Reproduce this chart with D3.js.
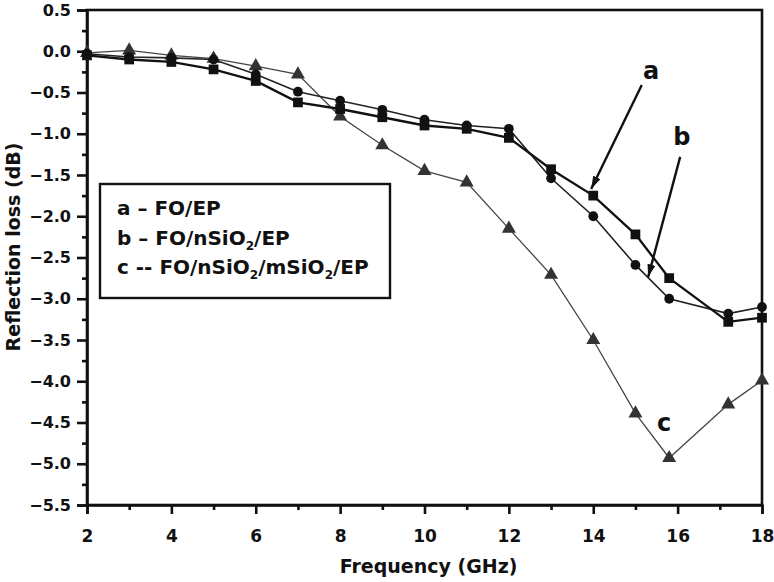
<!DOCTYPE html>
<html>
<head>
<meta charset="utf-8">
<script src="https://cdn.jsdelivr.net/npm/d3@7/dist/d3.min.js"></script>
<style>
  html, body { margin: 0; padding: 0; background: #fff; }
  svg { display: block; font-family: "DejaVu Sans", "Liberation Sans", Arial, sans-serif; }
</style>
</head>
<body>
<svg id="chart" width="774" height="582"></svg>
<script>
// ---- data ----
const frequency = [2, 3, 4, 5, 6, 7, 8, 9, 10, 11, 12, 13, 14, 15, 15.8, 17.2, 18];
const seriesA = [-0.05, -0.10, -0.13, -0.22, -0.36, -0.62, -0.70, -0.80, -0.90, -0.94, -1.05, -1.43, -1.75, -2.22, -2.75, -3.28, -3.23];
const seriesB = [-0.03, -0.07, -0.08, -0.10, -0.28, -0.49, -0.60, -0.71, -0.83, -0.90, -0.94, -1.54, -2.00, -2.59, -3.00, -3.18, -3.10];
const seriesC = [-0.02, 0.01, -0.05, -0.09, -0.18, -0.28, -0.79, -1.14, -1.45, -1.59, -2.15, -2.71, -3.50, -4.39, -4.93, -4.28, -3.99];
const xTicks = [2, 4, 6, 8, 10, 12, 14, 16, 18];
const xMinorTicks = [3, 5, 7, 9, 11, 13, 15, 17];
const yTicks = [0.5, 0.0, -0.5, -1.0, -1.5, -2.0, -2.5, -3.0, -3.5, -4.0, -4.5, -5.0, -5.5];
const yMinorTicks = [0.25, -0.25, -0.75, -1.25, -1.75, -2.25, -2.75, -3.25, -3.75, -4.25, -4.75, -5.25];
const xLabel = "Frequency (GHz)";
const yLabel = "Reflection loss (dB)";
// annotation anchors in data units: label position, arrow start, arrow end
const annotations = [
  { text: "a", label: [15.37, -0.24], from: [15.15, -0.41], to: [13.95, -1.67] },
  { text: "b", label: [16.1, -1.04], from: [16.06, -1.28], to: [15.3, -2.74] },
  { text: "c", label: [15.68, -4.5], from: null, to: null }
];

// ---- layout ----
const W = 774, H = 582;
const margin = { left: 87, right: 12, top: 10, bottom: 77 };
const svg = d3.select("#chart");
const x = d3.scaleLinear().domain([2, 18]).range([margin.left, W - margin.right]);
const y = d3.scaleLinear().domain([-5.5, 0.5]).range([H - margin.bottom, margin.top]);
const boldFont = "'DejaVu Sans', 'Liberation Sans', Arial, sans-serif";

// frame
svg.append("rect")
  .attr("x", x(2)).attr("y", y(0.5))
  .attr("width", x(18) - x(2)).attr("height", y(-5.5) - y(0.5))
  .attr("fill", "none").attr("stroke", "#111").attr("stroke-width", 2.6);

// axes
svg.append("g").attr("class", "xaxis").attr("transform", `translate(0,${y(-5.5)})`)
  .call(d3.axisBottom(x).tickValues(xTicks).tickSize(9).tickPadding(16).tickFormat(d3.format("d")));
svg.append("g").attr("transform", `translate(0,${y(-5.5)})`)
  .call(d3.axisBottom(x).tickValues(xMinorTicks).tickSize(5).tickFormat(""))
  .call(g => g.select(".domain").remove());
svg.append("g").attr("class", "yaxis").attr("transform", `translate(${x(2)},0)`)
  .call(d3.axisLeft(y).tickValues(yTicks).tickSize(10).tickPadding(6)
    .tickFormat(d => d3.format(".1f")(d).replace("-", "\u2212")));
svg.append("g").attr("transform", `translate(${x(2)},0)`)
  .call(d3.axisLeft(y).tickValues(yMinorTicks).tickSize(5).tickFormat(""))
  .call(g => g.select(".domain").remove());

svg.selectAll(".domain").attr("stroke", "#111").attr("stroke-width", 2.6);
svg.selectAll(".tick line").attr("stroke", "#111").attr("stroke-width", 2.6);
svg.selectAll(".tick text")
  .attr("font-family", boldFont).attr("font-weight", "bold").attr("fill", "#111");
svg.selectAll(".xaxis .tick text").attr("font-size", 17);
svg.selectAll(".yaxis .tick text").attr("font-size", 16);

// axis titles
svg.append("text")
  .attr("x", (x(2) + x(18)) / 2 + 4).attr("y", 573)
  .attr("text-anchor", "middle").attr("font-size", 19).attr("font-weight", "bold")
  .attr("font-family", boldFont).attr("fill", "#111")
  .text(xLabel);
svg.append("text")
  .attr("transform", `translate(20,247) rotate(-90)`)
  .attr("text-anchor", "middle").attr("font-size", 19).attr("font-weight", "bold")
  .attr("font-family", boldFont).attr("fill", "#111")
  .text(yLabel);

// series
const series = [
  { values: seriesC, color: "#444", width: 1.3, shape: d3.symbolTriangle, size: 85, fill: "#333" },
  { values: seriesB, color: "#222", width: 1.6, shape: d3.symbolCircle, size: 75, fill: "#111" },
  { values: seriesA, color: "#111", width: 2.3, shape: d3.symbolSquare, size: 95, fill: "#111" }
];
const line = d3.line().x(d => x(d[0])).y(d => y(d[1]));
series.forEach(s => {
  const pts = frequency.map((f, i) => [f, s.values[i]]);
  svg.append("path").datum(pts)
    .attr("d", line).attr("fill", "none")
    .attr("stroke", s.color).attr("stroke-width", s.width);
  svg.append("g").selectAll("path").data(pts).join("path")
    .attr("transform", d => `translate(${x(d[0])},${y(d[1])})`)
    .attr("d", d3.symbol().type(s.shape).size(s.size))
    .attr("fill", s.fill);
});

// arrow marker
svg.append("defs").append("marker")
  .attr("id", "arrow").attr("viewBox", "0 0 13 8")
  .attr("refX", 13).attr("refY", 4)
  .attr("markerWidth", 13).attr("markerHeight", 8)
  .attr("markerUnits", "userSpaceOnUse")
  .attr("orient", "auto")
  .append("path").attr("d", "M0,0 L13,4 L0,8 Z").attr("fill", "#111");

annotations.forEach(a => {
  svg.append("text")
    .attr("x", x(a.label[0])).attr("y", y(a.label[1]) + 8)
    .attr("text-anchor", "middle").attr("font-size", 24).attr("font-weight", "bold")
    .attr("font-family", boldFont).attr("fill", "#111")
    .text(a.text);
  if (a.from) {
    svg.append("line")
      .attr("x1", x(a.from[0])).attr("y1", y(a.from[1]))
      .attr("x2", x(a.to[0])).attr("y2", y(a.to[1]))
      .attr("stroke", "#111").attr("stroke-width", 2.4)
      .attr("marker-end", "url(#arrow)");
  }
});

// legend
const legendItems = [
  [{ t: "a \u2013 FO/EP" }],
  [{ t: "b \u2013 FO/nSiO" }, { t: "2", sub: true }, { t: "/EP" }],
  [{ t: "c -- FO/nSiO" }, { t: "2", sub: true }, { t: "/mSiO" }, { t: "2", sub: true }, { t: "/EP" }]
];
const lg = svg.append("g").attr("transform", "translate(100,184)");
lg.append("rect").attr("width", 290).attr("height", 114)
  .attr("fill", "#fff").attr("stroke", "#111").attr("stroke-width", 2.4);
legendItems.forEach((parts, i) => {
  const t = lg.append("text").attr("x", 17).attr("y", [31, 61, 90][i])
    .attr("font-size", 20).attr("font-weight", "bold")
    .attr("font-family", boldFont).attr("fill", "#111");
  let prevSub = false;
  parts.forEach(p => {
    const ts = t.append("tspan").text(p.t);
    if (p.sub) { ts.attr("font-size", 12).attr("dy", 5); prevSub = true; }
    else if (prevSub) { ts.attr("dy", -5); prevSub = false; }
  });
});
</script>
</body>
</html>
